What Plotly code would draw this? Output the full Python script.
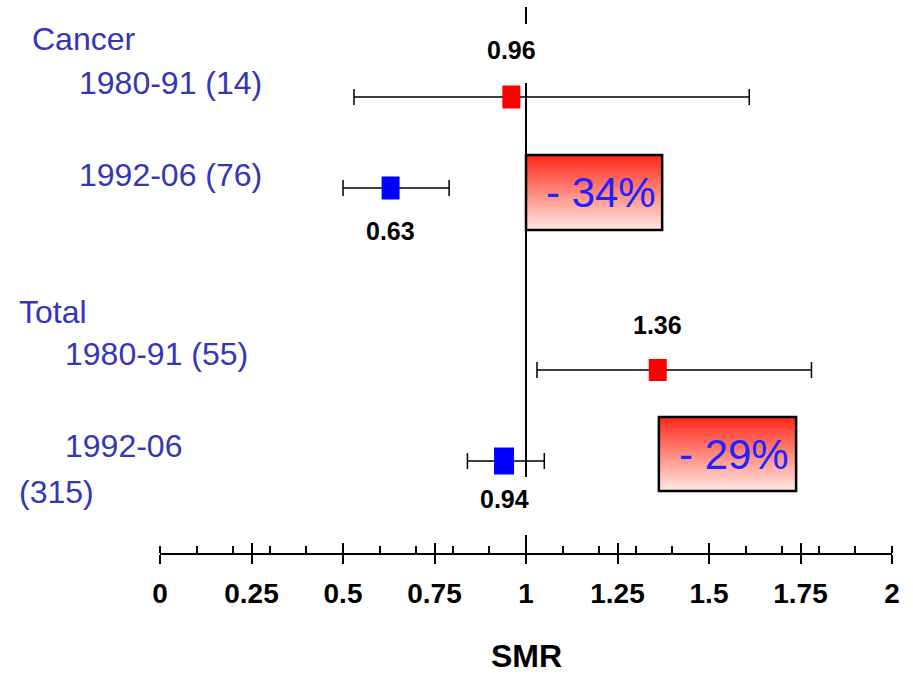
import plotly.graph_objects as go

# ---- data -------------------------------------------------------------
group_names = ["Cancer", "Total"]
period_labels = ["1980-91 (14)", "1992-06 (76)", "1980-91 (55)", "1992-06", "(315)"]
smr = [0.96, 0.63, 1.36, 0.94]
ci_low = [0.53, 0.50, 1.03, 0.84]
ci_high = [1.61, 0.79, 1.78, 1.05]
row_pos = [0, 1, 3, 4]
reductions = ["- 34%", "- 29%"]
x_ticks = [0, 0.25, 0.5, 0.75, 1, 1.25, 1.5, 1.75, 2]
x_tick_labels = ["0", "0.25", "0.5", "0.75", "1", "1.25", "1.5", "1.75", "2"]

# ---- styling ----------------------------------------------------------
marker_colors = ["#ff0000", "#0000ff", "#ff0000", "#0000ff"]
marker_w = [18, 18, 18, 20]
marker_h = [23, 23, 22, 27]
label_shift = [47, -43, 45, -38]
label_color = "#3535b8"
pct_color = "#2222ff"
bold_family = "Liberation Sans, Arial"
reg_family = "Liberation Sans, Arial"

W, H = 913, 679
ML, MR, MT, MB = 160, 21, 0, 126
PH = H - MT - MB  # plot height in px


def py(px):
    """pixel row -> paper y"""
    return (H - MB - px) / PH


ROW0, ROWSTEP = 97, 91
y_range = [(PH - ROW0) / ROWSTEP, (0 - ROW0) / ROWSTEP]

fig = go.Figure()

# confidence intervals
fig.add_trace(go.Scatter(
    x=smr, y=row_pos, mode="markers",
    marker=dict(size=1, opacity=0),
    error_x=dict(type="data", symmetric=False,
                 array=[h - s for h, s in zip(ci_high, smr)],
                 arrayminus=[s - l for s, l in zip(smr, ci_low)],
                 color="black", thickness=1.5, width=8),
    hoverinfo="skip", showlegend=False,
))
# carrier trace for the overlay tick axis
fig.add_trace(go.Scatter(
    x=x_ticks, y=[row_pos[0]] * len(x_ticks), xaxis="x2", mode="markers",
    marker=dict(size=1, opacity=0), hoverinfo="skip", showlegend=False,
))

shapes = []
# point estimates as rectangles
for v, r, c, w, h in zip(smr, row_pos, marker_colors, marker_w, marker_h):
    shapes.append(dict(type="rect", xref="x", yref="y",
                       xsizemode="pixel", ysizemode="pixel",
                       xanchor=v, yanchor=r,
                       x0=-w / 2, x1=w / 2, y0=-h / 2, y1=h / 2,
                       fillcolor=c, line=dict(width=0), layer="above"))

# reference line at SMR = 1
for a, b in [(7, 24), (83, 477), (535, 553)]:
    shapes.append(dict(type="line", xref="x", yref="paper", x0=1, x1=1,
                       y0=py(b), y1=py(a), line=dict(color="black", width=2)))

# gradient boxes with reduction percentages
boxes = [((1.0, 1.372), (155, 230)), ((1.363, 1.738), (417, 491))]
top_rgb = (255, 40, 24)
bot_rgb = (255, 233, 227)
annotations = []
for ((x0, x1), (t, b)), txt in zip(boxes, reductions):
    n = b - t
    for i in range(n):
        f = i / (n - 1)
        col = tuple(round(top_rgb[k] + (bot_rgb[k] - top_rgb[k]) * f) for k in range(3))
        shapes.append(dict(type="rect", xref="x", yref="paper", x0=x0, x1=x1,
                           y0=py(t + i + 1.3), y1=py(t + i),
                           fillcolor="rgb(%d,%d,%d)" % col, line=dict(width=0)))
    shapes.append(dict(type="rect", xref="x", yref="paper", x0=x0, x1=x1,
                       y0=py(b), y1=py(t), fillcolor="rgba(0,0,0,0)",
                       line=dict(color="black", width=2.5)))
    annotations.append(dict(x=(x0 + x1) / 2, y=py((t + b) / 2), xref="x", yref="paper",
                            xshift=7, text=txt, showarrow=False,
                            font=dict(family=reg_family, size=42, color=pct_color),
                            xanchor="center", yanchor="middle"))

# value labels
for v, r, s in zip(smr, row_pos, label_shift):
    annotations.append(dict(x=v, y=r, xref="x", yref="y", yshift=s,
                            text="%.2f" % v, showarrow=False,
                            font=dict(family=bold_family, size=25, color="black", weight="bold"),
                            xanchor="center", yanchor="middle"))

# row labels on the left
left_labels = [
    (group_names[0], 31, 38.5),
    (period_labels[0], 78, 83),
    (period_labels[1], 78, 175),
    (group_names[1], 18, 312),
    (period_labels[2], 64, 354),
    (period_labels[3], 64, 446),
    (period_labels[4], 18, 492),
]
for txt, px_x, px_y in left_labels:
    annotations.append(dict(x=(px_x - ML) / (W - ML - MR), y=py(px_y),
                            xref="paper", yref="paper", text=txt, showarrow=False,
                            font=dict(family=reg_family, size=32, color=label_color),
                            xanchor="left", yanchor="middle", borderpad=0))

# axis title
annotations.append(dict(x=1, y=py(656), xref="x", yref="paper", text="SMR",
                        showarrow=False,
                        font=dict(family=bold_family, size=32, color="black", weight="bold"),
                        xanchor="center", yanchor="middle"))

fig.update_layout(
    width=W, height=H,
    margin=dict(l=ML, r=MR, t=MT, b=MB),
    paper_bgcolor="white", plot_bgcolor="white",
    showlegend=False,
    xaxis=dict(range=[0, 2], tickvals=x_ticks, ticktext=x_tick_labels,
               showline=True, linecolor="black", linewidth=2,
               ticks="outside", ticklen=9, tickwidth=2, tickcolor="black",
               tickfont=dict(family=bold_family, size=28, color="black", weight="bold"),
               ticklabelstandoff=5,
               minor=dict(ticks="inside", ticklen=7, tickwidth=1.5, tickcolor="black",
                          tick0=0, dtick=0.1),
               showgrid=False, zeroline=False, fixedrange=True),
    xaxis2=dict(range=[0, 2], overlaying="x", anchor="y", side="bottom",
                tickvals=x_ticks, ticks="inside", ticklen=10, tickwidth=2,
                tickcolor="black", showticklabels=False, showline=False,
                showgrid=False, zeroline=False),
    yaxis=dict(range=y_range, showticklabels=False, showgrid=False,
               zeroline=False, showline=False, ticks=""),
    shapes=shapes,
    annotations=annotations,
)

fig.write_html("out.html")
